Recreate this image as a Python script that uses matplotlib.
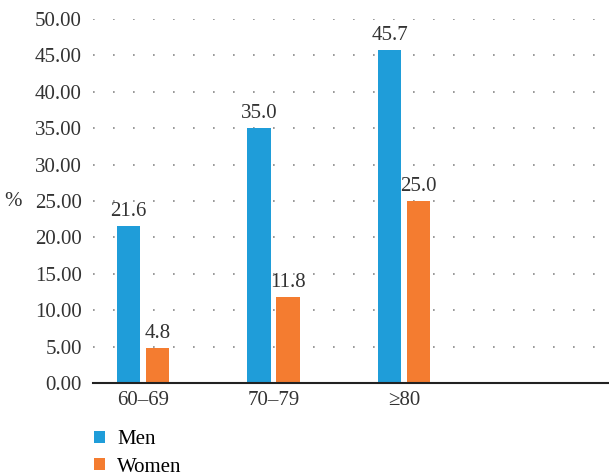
import matplotlib
matplotlib.use("Agg")
import matplotlib.pyplot as plt
import numpy as np

age_groups = ["60\u201369", "70\u201379", "\u226580"]
men = [21.6, 35.0, 45.7]
women = [4.8, 11.8, 25.0]
y_ticks = [0, 5, 10, 15, 20, 25, 30, 35, 40, 45, 50]

plt.rcParams["font.family"] = ["Liberation Serif", "DejaVu Serif"]
FS = 15

fig = plt.figure(figsize=(6.09, 4.74), dpi=100)
ax = fig.add_axes([93 / 609, 1 - 383 / 474, 516 / 609, 364 / 474])

x = np.arange(len(age_groups))
w = 0.18
off = 0.11
blue, orange = "#1f9dd9", "#f47c30"
b1 = ax.bar(x - off, men, w, color=blue, label="Men", zorder=3)
b2 = ax.bar(x + off, women, w, color=orange, label="Women", zorder=3)

for bars, vals in ((b1, men), (b2, women)):
    for b, v in zip(bars, vals):
        ax.text(b.get_x() + b.get_width() / 2, v + 0.7, f"{v:.1f}",
                ha="center", va="bottom", fontsize=FS, color="#333333", zorder=4)

ax.set_xlim(-0.383, 3.57)
ax.set_ylim(0, 50)
ax.set_yticks(y_ticks)
ax.set_yticklabels([f"{t:.2f}" for t in y_ticks])
ax.set_xticks(x)
ax.set_xticklabels(age_groups)
ax.tick_params(axis="both", length=0, labelsize=FS, colors="#333333")
ax.tick_params(axis="y", pad=8)
ax.tick_params(axis="x", pad=6)

ax.grid(axis="y", linestyle=(0, (1, 11)), color="#888888", linewidth=1.2, zorder=0)
for s in ("top", "right", "left"):
    ax.spines[s].set_visible(False)
ax.spines["bottom"].set_color("#222222")
ax.spines["bottom"].set_linewidth(1.5)
ax.spines["bottom"].set_zorder(5)

ax.set_ylabel("%", rotation=0, fontsize=FS, color="#333333", labelpad=16, va="center")

fig.legend(handles=[b1, b2], loc="upper left", bbox_to_anchor=(86 / 609, 1 - 422 / 474),
           frameon=False, fontsize=FS, handlelength=0.5, handleheight=0.5,
           handletextpad=0.6, labelspacing=0.4, borderaxespad=0)

fig.savefig("out.png", dpi=100)
